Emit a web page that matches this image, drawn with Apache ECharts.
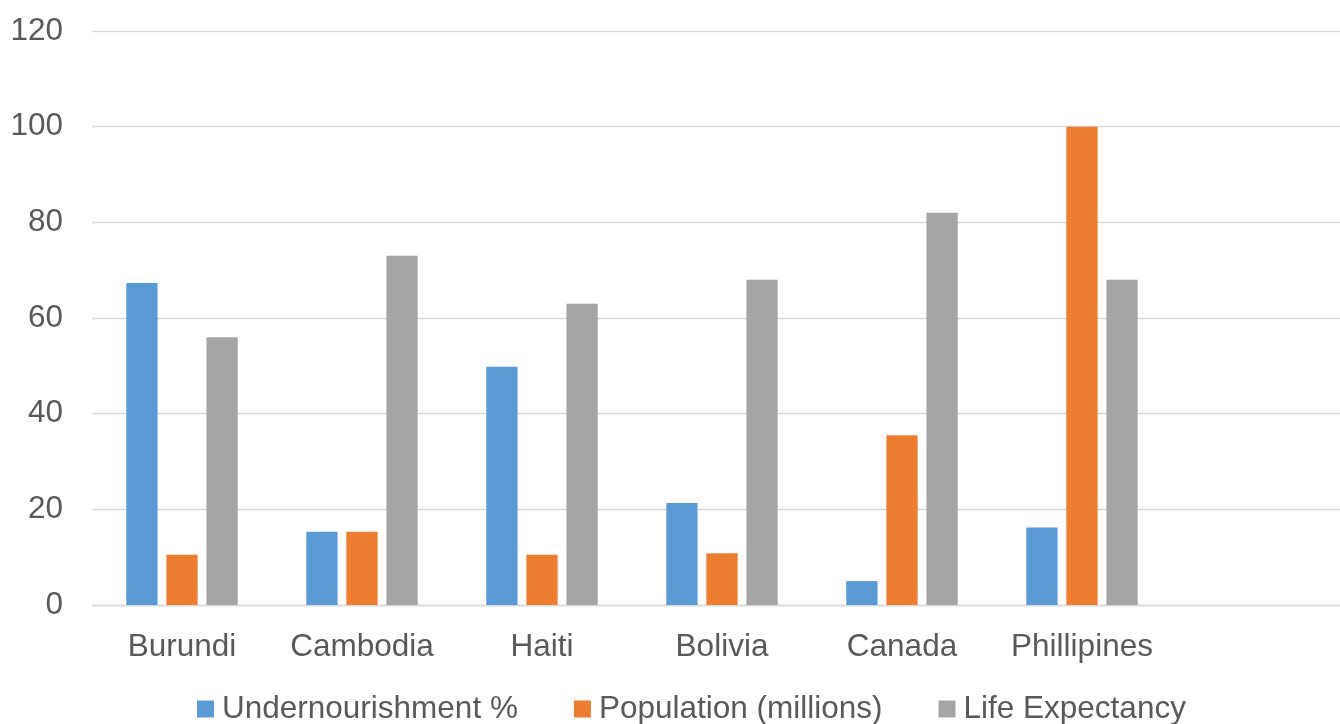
<!DOCTYPE html>
<html>
<head>
<meta charset="utf-8">
<script src="https://cdn.jsdelivr.net/npm/echarts@6/dist/echarts.min.js"></script>
<style>
  html, body { margin: 0; padding: 0; background: #fff; overflow: hidden; }
  body { width: 1340px; height: 724px; }
  /* the plot area runs slightly past the right edge of the page */
  #chart { width: 1352px; height: 724px; }
</style>
</head>
<body>
<div id="chart"></div>
<script>
// Country categories (the last slot is an empty row in the source table)
const countries = ['Burundi', 'Cambodia', 'Haiti', 'Bolivia', 'Canada', 'Phillipines', ''];

// Series values per country
const undernourishment = [67.3, 15.3, 49.8, 21.3, 5.0, 16.2, null];
const population = [10.5, 15.3, 10.5, 10.8, 35.5, 100.0, null];
const lifeExpectancy = [56, 73, 63, 68, 82, 68, null];

// Value-axis ticks
const yMin = 0;
const yMax = 120;
const yStep = 20;

const seriesNames = ['Undernourishment %', 'Population (millions)', 'Life Expectancy'];
const seriesColors = ['#5B9BD5', '#ED7D31', '#A5A5A5'];

const FONT = '"Liberation Sans", Arial, sans-serif';
const TEXT_COLOR = '#595959';
const GRID_COLOR = '#D9D9D9';

const chart = echarts.init(document.getElementById('chart'), null, { renderer: 'canvas' });

function barSeries(name, data, color) {
  return {
    name: name,
    type: 'bar',
    data: data,
    barWidth: 31.3,
    barGap: '28%',
    itemStyle: { color: color },
    emphasis: { disabled: true }
  };
}

chart.setOption({
  animation: false,
  backgroundColor: '#ffffff',
  textStyle: { fontFamily: FONT },
  grid: {
    left: 92,
    top: 31,
    right: 0,
    bottom: 119,
    containLabel: false
  },
  legend: {
    left: 197,
    top: 693,
    padding: 0,
    itemWidth: 17,
    itemHeight: 17,
    itemGap: 56,
    icon: 'rect',
    selectedMode: false,
    data: seriesNames,
    textStyle: {
      fontFamily: FONT,
      fontSize: 31.5,
      color: TEXT_COLOR,
      lineHeight: 31,
      padding: [0, 0, 0, 3]
    }
  },
  xAxis: {
    type: 'category',
    data: countries,
    axisLine: { show: true, lineStyle: { color: GRID_COLOR, width: 1.3 } },
    axisTick: { show: false },
    axisLabel: {
      fontFamily: FONT,
      fontSize: 31.5,
      color: TEXT_COLOR,
      margin: 26,
      interval: 0
    },
    splitLine: { show: false }
  },
  yAxis: {
    type: 'value',
    min: yMin,
    max: yMax,
    interval: yStep,
    axisLine: { show: false },
    axisTick: { show: false },
    axisLabel: {
      fontFamily: FONT,
      fontSize: 31.5,
      color: TEXT_COLOR,
      margin: 29,
      padding: [8, 0, 0, 0]
    },
    splitLine: { show: true, lineStyle: { color: GRID_COLOR, width: 1.3 } }
  },
  series: [
    barSeries(seriesNames[0], undernourishment, seriesColors[0]),
    barSeries(seriesNames[1], population, seriesColors[1]),
    barSeries(seriesNames[2], lifeExpectancy, seriesColors[2])
  ]
});
</script>
</body>
</html>
